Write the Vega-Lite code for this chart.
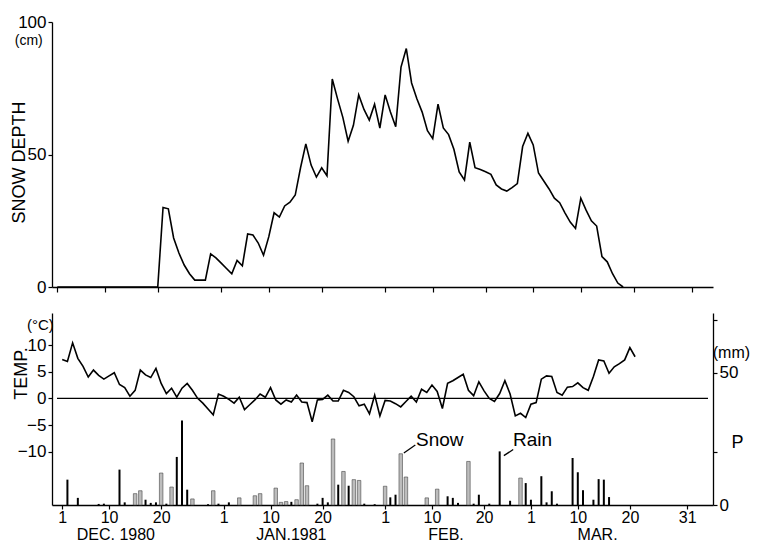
{
  "$schema": "https://vega.github.io/schema/vega-lite/v6.json",
  "padding": {"left": 10, "top": 13, "right": 0, "bottom": 0},
  "background": "white",
  "config": {
    "font": "Liberation Sans",
    "view": {"stroke": null},
    "axis": {"grid": false, "domainColor": "black", "tickColor": "black", "labelColor": "black", "titleColor": "black", "domainWidth": 1.3, "tickWidth": 1.2, "labelFontSize": 17, "titleFontWeight": "normal", "titleFontSize": 18, "labelOverlap": false},
    "axisRight": {"labelOverlap": false},
    "text": {"font": "Liberation Sans", "color": "black"},
    "concat": {"spacing": 16}
  },
  "datasets": {
    "snow": [
      {"day": 1, "depth": 0}, {"day": 5, "depth": 0}, {"day": 10, "depth": 0}, {"day": 15, "depth": 0}, {"day": 19, "depth": 0},
      {"day": 20, "depth": 0}, {"day": 21, "depth": 30}, {"day": 22, "depth": 29.5}, {"day": 23, "depth": 18.5}, {"day": 24, "depth": 12.8},
      {"day": 25, "depth": 8.3}, {"day": 26, "depth": 5}, {"day": 27, "depth": 2.6}, {"day": 28, "depth": 2.6}, {"day": 29, "depth": 2.6},
      {"day": 30, "depth": 12.5}, {"day": 31, "depth": 11}, {"day": 32, "depth": 9}, {"day": 33, "depth": 7}, {"day": 34, "depth": 5},
      {"day": 35, "depth": 10}, {"day": 36, "depth": 8}, {"day": 37, "depth": 20}, {"day": 38, "depth": 19.6}, {"day": 39, "depth": 16.6},
      {"day": 40, "depth": 12}, {"day": 41, "depth": 19}, {"day": 42, "depth": 28}, {"day": 43, "depth": 26.4}, {"day": 44, "depth": 30.6},
      {"day": 45, "depth": 32}, {"day": 46, "depth": 34.7}, {"day": 47, "depth": 45}, {"day": 48, "depth": 54}, {"day": 49, "depth": 46},
      {"day": 50, "depth": 41.5}, {"day": 51, "depth": 45}, {"day": 52, "depth": 42}, {"day": 53, "depth": 78.5}, {"day": 54, "depth": 71},
      {"day": 55, "depth": 64}, {"day": 56, "depth": 55}, {"day": 57, "depth": 61}, {"day": 58, "depth": 72.5}, {"day": 59, "depth": 67},
      {"day": 60, "depth": 63}, {"day": 61, "depth": 69}, {"day": 62, "depth": 60}, {"day": 63, "depth": 72.5}, {"day": 64, "depth": 66},
      {"day": 65, "depth": 60.5}, {"day": 66, "depth": 83}, {"day": 67, "depth": 90}, {"day": 68, "depth": 77}, {"day": 69, "depth": 71},
      {"day": 70, "depth": 66}, {"day": 71, "depth": 59}, {"day": 72, "depth": 56}, {"day": 73, "depth": 69}, {"day": 74, "depth": 60},
      {"day": 75, "depth": 57.5}, {"day": 76, "depth": 52}, {"day": 77, "depth": 43.4}, {"day": 78, "depth": 40.4}, {"day": 79, "depth": 54.7},
      {"day": 80, "depth": 45}, {"day": 81, "depth": 44.3}, {"day": 82, "depth": 43.5}, {"day": 83, "depth": 42.5}, {"day": 84, "depth": 38.5},
      {"day": 85, "depth": 37}, {"day": 86, "depth": 36.2}, {"day": 87, "depth": 37.5}, {"day": 88, "depth": 39}, {"day": 89, "depth": 53},
      {"day": 90, "depth": 58}, {"day": 91, "depth": 53.6}, {"day": 92, "depth": 43}, {"day": 93, "depth": 40}, {"day": 94, "depth": 37},
      {"day": 95, "depth": 33.5}, {"day": 96, "depth": 31.8}, {"day": 97, "depth": 28}, {"day": 98, "depth": 24.5}, {"day": 99, "depth": 22.1},
      {"day": 100, "depth": 33.5}, {"day": 101, "depth": 29}, {"day": 102, "depth": 25}, {"day": 103, "depth": 23}, {"day": 104, "depth": 11.5},
      {"day": 105, "depth": 9.5}, {"day": 106, "depth": 5}, {"day": 107, "depth": 1.5}, {"day": 108, "depth": 0}
    ],
    "temp": [
      {"day": 1, "temp": 7.3}, {"day": 2, "temp": 6.9}, {"day": 3, "temp": 10.4}, {"day": 4, "temp": 7.5}, {"day": 5, "temp": 6},
      {"day": 6, "temp": 4}, {"day": 7, "temp": 5.3}, {"day": 8, "temp": 4.3}, {"day": 9, "temp": 3.6}, {"day": 10, "temp": 4.2},
      {"day": 11, "temp": 4.8}, {"day": 12, "temp": 2.6}, {"day": 13, "temp": 2.0}, {"day": 14, "temp": 0.4}, {"day": 15, "temp": 1.5},
      {"day": 16, "temp": 5.3}, {"day": 17, "temp": 4.4}, {"day": 18, "temp": 3.9}, {"day": 19, "temp": 5.6}, {"day": 20, "temp": 2.8},
      {"day": 21, "temp": 0.9}, {"day": 22, "temp": 1.9}, {"day": 23, "temp": 0.2}, {"day": 24, "temp": 1.9}, {"day": 25, "temp": 2.8},
      {"day": 26, "temp": 1.5}, {"day": 27, "temp": 0}, {"day": 28, "temp": -0.9}, {"day": 29, "temp": -2}, {"day": 30, "temp": -3.1},
      {"day": 31, "temp": 0.8}, {"day": 32, "temp": 0.4}, {"day": 33, "temp": -0.2}, {"day": 34, "temp": -0.9}, {"day": 35, "temp": 0.2},
      {"day": 36, "temp": -2.1}, {"day": 37, "temp": -1.2}, {"day": 38, "temp": -0.3}, {"day": 39, "temp": 0.8}, {"day": 40, "temp": 0.2},
      {"day": 41, "temp": 2.0}, {"day": 42, "temp": -0.3}, {"day": 43, "temp": -1.1}, {"day": 44, "temp": -0.3}, {"day": 45, "temp": -0.7},
      {"day": 46, "temp": 0.6}, {"day": 47, "temp": -0.7}, {"day": 48, "temp": -0.8}, {"day": 49, "temp": -4.4}, {"day": 50, "temp": -0.3},
      {"day": 51, "temp": -0.2}, {"day": 52, "temp": 0.6}, {"day": 53, "temp": -0.5}, {"day": 54, "temp": -0.5}, {"day": 55, "temp": 1.5},
      {"day": 56, "temp": 1.1}, {"day": 57, "temp": 0.3}, {"day": 58, "temp": -1.4}, {"day": 59, "temp": -1.1}, {"day": 60, "temp": -2.9},
      {"day": 61, "temp": 0.6}, {"day": 62, "temp": -3.3}, {"day": 63, "temp": -0.4}, {"day": 64, "temp": -0.5}, {"day": 65, "temp": -1.0},
      {"day": 66, "temp": -1.6}, {"day": 67, "temp": -0.6}, {"day": 68, "temp": 0.4}, {"day": 69, "temp": -0.7}, {"day": 70, "temp": 1.7},
      {"day": 71, "temp": 1.1}, {"day": 72, "temp": 2.5}, {"day": 73, "temp": 1.3}, {"day": 74, "temp": -1.9}, {"day": 75, "temp": 2.8},
      {"day": 76, "temp": 3.3}, {"day": 77, "temp": 3.9}, {"day": 78, "temp": 4.5}, {"day": 79, "temp": 1.5}, {"day": 80, "temp": 0.5},
      {"day": 81, "temp": 3.1}, {"day": 82, "temp": 1.4}, {"day": 83, "temp": 0}, {"day": 84, "temp": -0.6}, {"day": 85, "temp": 0.9},
      {"day": 86, "temp": 3.3}, {"day": 87, "temp": 0.8}, {"day": 88, "temp": -3.3}, {"day": 89, "temp": -2.8}, {"day": 90, "temp": -3.6},
      {"day": 91, "temp": -1.1}, {"day": 92, "temp": -0.8}, {"day": 93, "temp": 3.6}, {"day": 94, "temp": 4.2}, {"day": 95, "temp": 4.1},
      {"day": 96, "temp": 1.1}, {"day": 97, "temp": 0.6}, {"day": 98, "temp": 2.1}, {"day": 99, "temp": 2.2}, {"day": 100, "temp": 2.9},
      {"day": 101, "temp": 2.0}, {"day": 102, "temp": 1.5}, {"day": 103, "temp": 4.1}, {"day": 104, "temp": 7.2}, {"day": 105, "temp": 7.0},
      {"day": 106, "temp": 4.7}, {"day": 107, "temp": 5.9}, {"day": 108, "temp": 6.5}, {"day": 109, "temp": 7.2}, {"day": 110, "temp": 9.5},
      {"day": 111, "temp": 7.8}
    ],
    "precip": [
      {"day": 2, "mm": 9.6, "type": "Rain"}, {"day": 4, "mm": 2.7, "type": "Rain"}, {"day": 8, "mm": 0.4, "type": "Rain"}, {"day": 9, "mm": 0.5, "type": "Rain"},
      {"day": 12, "mm": 13.4, "type": "Rain"}, {"day": 13, "mm": 1, "type": "Rain"}, {"day": 15, "mm": 4.3, "type": "Snow"}, {"day": 16, "mm": 5.4, "type": "Snow"},
      {"day": 17, "mm": 2, "type": "Rain"}, {"day": 18, "mm": 0.8, "type": "Rain"}, {"day": 19, "mm": 1, "type": "Rain"}, {"day": 20, "mm": 12.1, "type": "Snow"},
      {"day": 21, "mm": 0.5, "type": "Rain"}, {"day": 22, "mm": 6.8, "type": "Snow"}, {"day": 23, "mm": 18.2, "type": "Rain"}, {"day": 24, "mm": 32, "type": "Rain"},
      {"day": 25, "mm": 5.8, "type": "Rain"}, {"day": 26, "mm": 2.3, "type": "Snow"}, {"day": 29, "mm": 0.3, "type": "Rain"}, {"day": 30, "mm": 5.4, "type": "Snow"},
      {"day": 31, "mm": 0.5, "type": "Rain"}, {"day": 33, "mm": 1, "type": "Rain"}, {"day": 35, "mm": 2.7, "type": "Snow"}, {"day": 38, "mm": 3.5, "type": "Snow"},
      {"day": 39, "mm": 4.3, "type": "Snow"}, {"day": 42, "mm": 6.4, "type": "Snow"}, {"day": 43, "mm": 1, "type": "Snow"}, {"day": 44, "mm": 1.3, "type": "Snow"},
      {"day": 45, "mm": 1.2, "type": "Rain"}, {"day": 46, "mm": 2, "type": "Snow"}, {"day": 47, "mm": 15.9, "type": "Snow"}, {"day": 48, "mm": 7.3, "type": "Snow"},
      {"day": 50, "mm": 0.5, "type": "Rain"}, {"day": 51, "mm": 2.7, "type": "Rain"}, {"day": 52, "mm": 1, "type": "Rain"}, {"day": 53, "mm": 25, "type": "Snow"},
      {"day": 54, "mm": 7.7, "type": "Rain"}, {"day": 55, "mm": 12.7, "type": "Snow"}, {"day": 56, "mm": 7.3, "type": "Rain"}, {"day": 57, "mm": 9.6, "type": "Snow"},
      {"day": 58, "mm": 9.3, "type": "Snow"}, {"day": 59, "mm": 0.5, "type": "Rain"}, {"day": 61, "mm": 0.3, "type": "Rain"}, {"day": 63, "mm": 7.1, "type": "Snow"},
      {"day": 64, "mm": 2.9, "type": "Rain"}, {"day": 65, "mm": 3.9, "type": "Rain"}, {"day": 66, "mm": 19.4, "type": "Snow"}, {"day": 67, "mm": 10.6, "type": "Snow"},
      {"day": 71, "mm": 2.7, "type": "Snow"}, {"day": 73, "mm": 6, "type": "Snow"}, {"day": 75, "mm": 3.3, "type": "Rain"}, {"day": 76, "mm": 2.7, "type": "Rain"},
      {"day": 77, "mm": 0.8, "type": "Rain"}, {"day": 79, "mm": 16.5, "type": "Snow"}, {"day": 80, "mm": 0.5, "type": "Rain"}, {"day": 81, "mm": 3.9, "type": "Rain"},
      {"day": 83, "mm": 0.5, "type": "Rain"}, {"day": 85, "mm": 20.3, "type": "Rain"}, {"day": 87, "mm": 1.6, "type": "Rain"}, {"day": 89, "mm": 10.2, "type": "Snow"},
      {"day": 90, "mm": 8.3, "type": "Rain"}, {"day": 91, "mm": 2, "type": "Rain"}, {"day": 93, "mm": 10.9, "type": "Rain"}, {"day": 94, "mm": 1, "type": "Rain"},
      {"day": 95, "mm": 5.2, "type": "Rain"}, {"day": 96, "mm": 0.5, "type": "Rain"}, {"day": 99, "mm": 17.8, "type": "Rain"}, {"day": 100, "mm": 12.4, "type": "Rain"},
      {"day": 101, "mm": 5.6, "type": "Rain"}, {"day": 103, "mm": 2, "type": "Rain"}, {"day": 104, "mm": 9.8, "type": "Rain"}, {"day": 105, "mm": 9.6, "type": "Rain"},
      {"day": 106, "mm": 3, "type": "Rain"}
    ]
  },
  "vconcat": [
    {
      "width": 661,
      "height": 265,
      "layer": [
        {
          "data": {"name": "snow"},
          "mark": {"type": "line", "color": "black", "strokeWidth": 1.6},
          "encoding": {
            "x": {"field": "day", "type": "quantitative", "scale": {"domain": [0, 125], "nice": false, "zero": false},
                  "axis": {"values": [1, 10, 20, 32, 41, 51, 63, 72, 82, 91, 100, 110, 121], "labels": false, "tickSize": 5, "title": null}},
            "y": {"field": "depth", "type": "quantitative", "scale": {"domain": [0, 100], "nice": false},
                  "axis": {"values": [0, 50, 100], "tickSize": 4, "title": "SNOW DEPTH", "titleAlign": "center", "titleBaseline": "middle", "titleX": -33, "titleY": 140}}
          }
        },
        {
          "data": {"values": [{"day": -4.4, "depth": 92.8, "label": "(cm)"}]},
          "mark": {"type": "text", "fontSize": 14, "align": "center", "baseline": "middle"},
          "encoding": {
            "x": {"field": "day", "type": "quantitative"},
            "y": {"field": "depth", "type": "quantitative"},
            "text": {"field": "label"}
          }
        }
      ]
    },
    {
      "width": 661,
      "height": 192,
      "resolve": {"scale": {"y": "independent"}},
      "layer": [
        {
          "layer": [
            {
              "data": {"name": "temp"},
              "mark": {"type": "line", "color": "black", "strokeWidth": 1.6},
              "encoding": {
                "x": {"field": "day", "type": "quantitative", "scale": {"domain": [0, 125], "nice": false, "zero": false},
                      "axis": {"values": [1, 10, 20, 32, 41, 51, 63, 72, 82, 91, 100, 110, 121], "tickSize": 4, "labelPadding": 0, "title": null, "labelFontSize": 16,
                               "labelExpr": "datum.value <= 31 ? datum.value : datum.value <= 62 ? datum.value - 31 : datum.value <= 90 ? datum.value - 62 : datum.value - 90"}},
                "y": {"field": "temp", "type": "quantitative", "scale": {"domain": [-20, 16], "nice": false, "zero": false},
                      "axis": {"values": [-10, -5, 0, 5, 10], "tickSize": 4, "title": "TEMP.", "titleAlign": "center", "titleBaseline": "middle", "titleX": -31, "titleY": 60}}
              }
            },
            {
              "data": {"values": [{"day": 0, "day2": 125, "temp": 0}]},
              "mark": {"type": "rule", "color": "black", "strokeWidth": 1.3},
              "encoding": {
                "x": {"field": "day", "type": "quantitative"},
                "x2": {"field": "day2"},
                "y": {"field": "temp", "type": "quantitative"}
              }
            },
            {
              "data": {"values": [{"day": -3.2, "temp": 13.7, "label": "(°C)"}]},
              "mark": {"type": "text", "fontSize": 15, "align": "center", "baseline": "middle"},
              "encoding": {
                "x": {"field": "day", "type": "quantitative"},
                "y": {"field": "temp", "type": "quantitative"},
                "text": {"field": "label"}
              }
            }
          ]
        },
        {
          "layer": [
            {
              "data": {"name": "precip"},
              "transform": [{"filter": "datum.type == 'Snow'"}],
              "mark": {"type": "bar", "size": 3.5, "fill": "#bdbdbd", "stroke": "#444444", "strokeWidth": 0.6},
              "encoding": {
                "x": {"field": "day", "type": "quantitative"},
                "y": {"field": "mm", "type": "quantitative", "scale": {"domain": [0, 72.7], "nice": false},
                      "axis": {"orient": "right", "values": [0, 10, 20, 30, 50, 60, 70], "tickSize": 4, "labelOverlap": false,
                               "labelExpr": "datum.value == 0 ? '0' : (datum.value == 50 ? '50' : '')",
                               "title": "P", "titleAngle": 0, "titleFontSize": 18, "titleAlign": "center", "titleBaseline": "middle", "titleX": 24, "titleY": 129}}
              }
            },
            {
              "data": {"name": "precip"},
              "transform": [{"filter": "datum.type == 'Rain'"}],
              "mark": {"type": "bar", "size": 2, "color": "black"},
              "encoding": {
                "x": {"field": "day", "type": "quantitative"},
                "y": {"field": "mm", "type": "quantitative"}
              }
            },
            {
              "data": {"values": [{"day": 66.6, "day2": 68.8, "mm": 19.7, "mm2": 22.7}, {"day": 85.8, "day2": 87.6, "mm": 18.7, "mm2": 21}]},
              "mark": {"type": "rule", "color": "black", "strokeWidth": 1.3},
              "encoding": {
                "x": {"field": "day", "type": "quantitative"},
                "x2": {"field": "day2"},
                "y": {"field": "mm", "type": "quantitative"},
                "y2": {"field": "mm2"}
              }
            },
            {
              "data": {"values": [{"day": 73.5, "mm": 24.8, "label": "Snow"}, {"day": 91.3, "mm": 24.8, "label": "Rain"}]},
              "mark": {"type": "text", "fontSize": 19, "align": "center", "baseline": "middle"},
              "encoding": {
                "x": {"field": "day", "type": "quantitative"},
                "y": {"field": "mm", "type": "quantitative"},
                "text": {"field": "label"}
              }
            },
            {
              "data": {"values": [
                {"day": 11.3, "mm": -11.5, "label": "DEC. 1980"},
                {"day": 45, "mm": -11.5, "label": "JAN.1981"},
                {"day": 74.7, "mm": -11.5, "label": "FEB."},
                {"day": 103.8, "mm": -11.5, "label": "MAR."},
                {"day": 129.5, "mm": 57.6, "label": "(mm)"}
              ]},
              "mark": {"type": "text", "fontSize": 16, "align": "center", "baseline": "middle"},
              "encoding": {
                "x": {"field": "day", "type": "quantitative"},
                "y": {"field": "mm", "type": "quantitative"},
                "text": {"field": "label"}
              }
            }
          ]
        }
      ]
    }
  ]
}
